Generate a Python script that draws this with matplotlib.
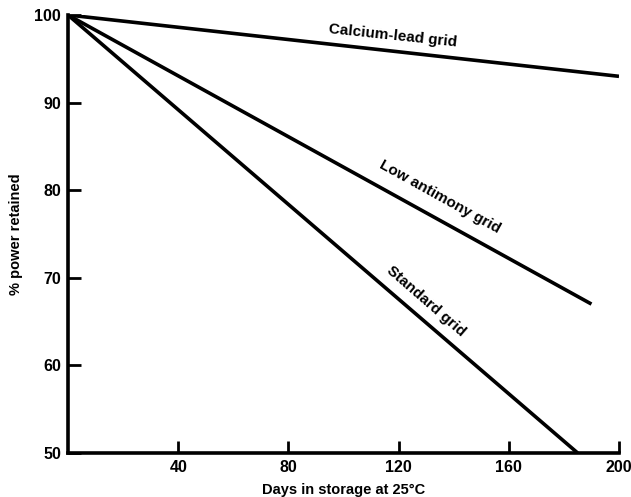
import matplotlib
matplotlib.use("Agg")
import matplotlib.pyplot as plt

days_calcium = [0, 200]
power_calcium = [100, 93]
days_low_sb = [0, 190]
power_low_sb = [100, 67]
days_standard = [0, 185]
power_standard = [100, 50]

x_ticks = [40, 80, 120, 160, 200]
y_ticks = [50, 60, 70, 80, 90, 100]

fam = ['Liberation Sans Narrow', 'Liberation Sans', 'DejaVu Sans']
plt.rcParams['font.family'] = fam
plt.rcParams['font.weight'] = 'bold'

fig = plt.figure(figsize=(6.31, 4.97), dpi=100)
ax = fig.add_axes([68/631, 1-453/497, (619-68)/631, (453-15)/497])

lw = 2.6
ax.plot(days_calcium, power_calcium, color='black', lw=lw, solid_capstyle='butt')
ax.plot(days_low_sb, power_low_sb, color='black', lw=lw, solid_capstyle='butt')
ax.plot(days_standard, power_standard, color='black', lw=lw, solid_capstyle='butt')

ax.set_xlim(0, 200)
ax.set_ylim(50, 100)
ax.set_xticks(x_ticks)
ax.set_yticks(y_ticks)
ax.tick_params(direction='in', length=9, width=2, labelsize=11.5, pad=5)
for lab in ax.get_xticklabels() + ax.get_yticklabels():
    lab.set_fontweight('bold')

for s in ['top', 'right']:
    ax.spines[s].set_visible(False)
for s in ['left', 'bottom']:
    ax.spines[s].set_linewidth(2.6)

ax.set_xlabel('Days in storage at 25°C', fontsize=10.5, fontweight='bold', labelpad=6)
ax.set_ylabel('% power retained', fontsize=10.5, fontweight='bold', labelpad=8)

ax.text(118, 97.6, 'Calcium-lead grid', rotation=-6, ha='center', va='center',
        fontsize=11, fontweight='bold')
ax.text(135, 79.2, 'Low antimony grid', rotation=-29, ha='center', va='center',
        fontsize=11, fontweight='bold')
ax.text(130, 67.3, 'Standard grid', rotation=-41, ha='center', va='center',
        fontsize=11, fontweight='bold')

fig.savefig('out.png', dpi=100)
